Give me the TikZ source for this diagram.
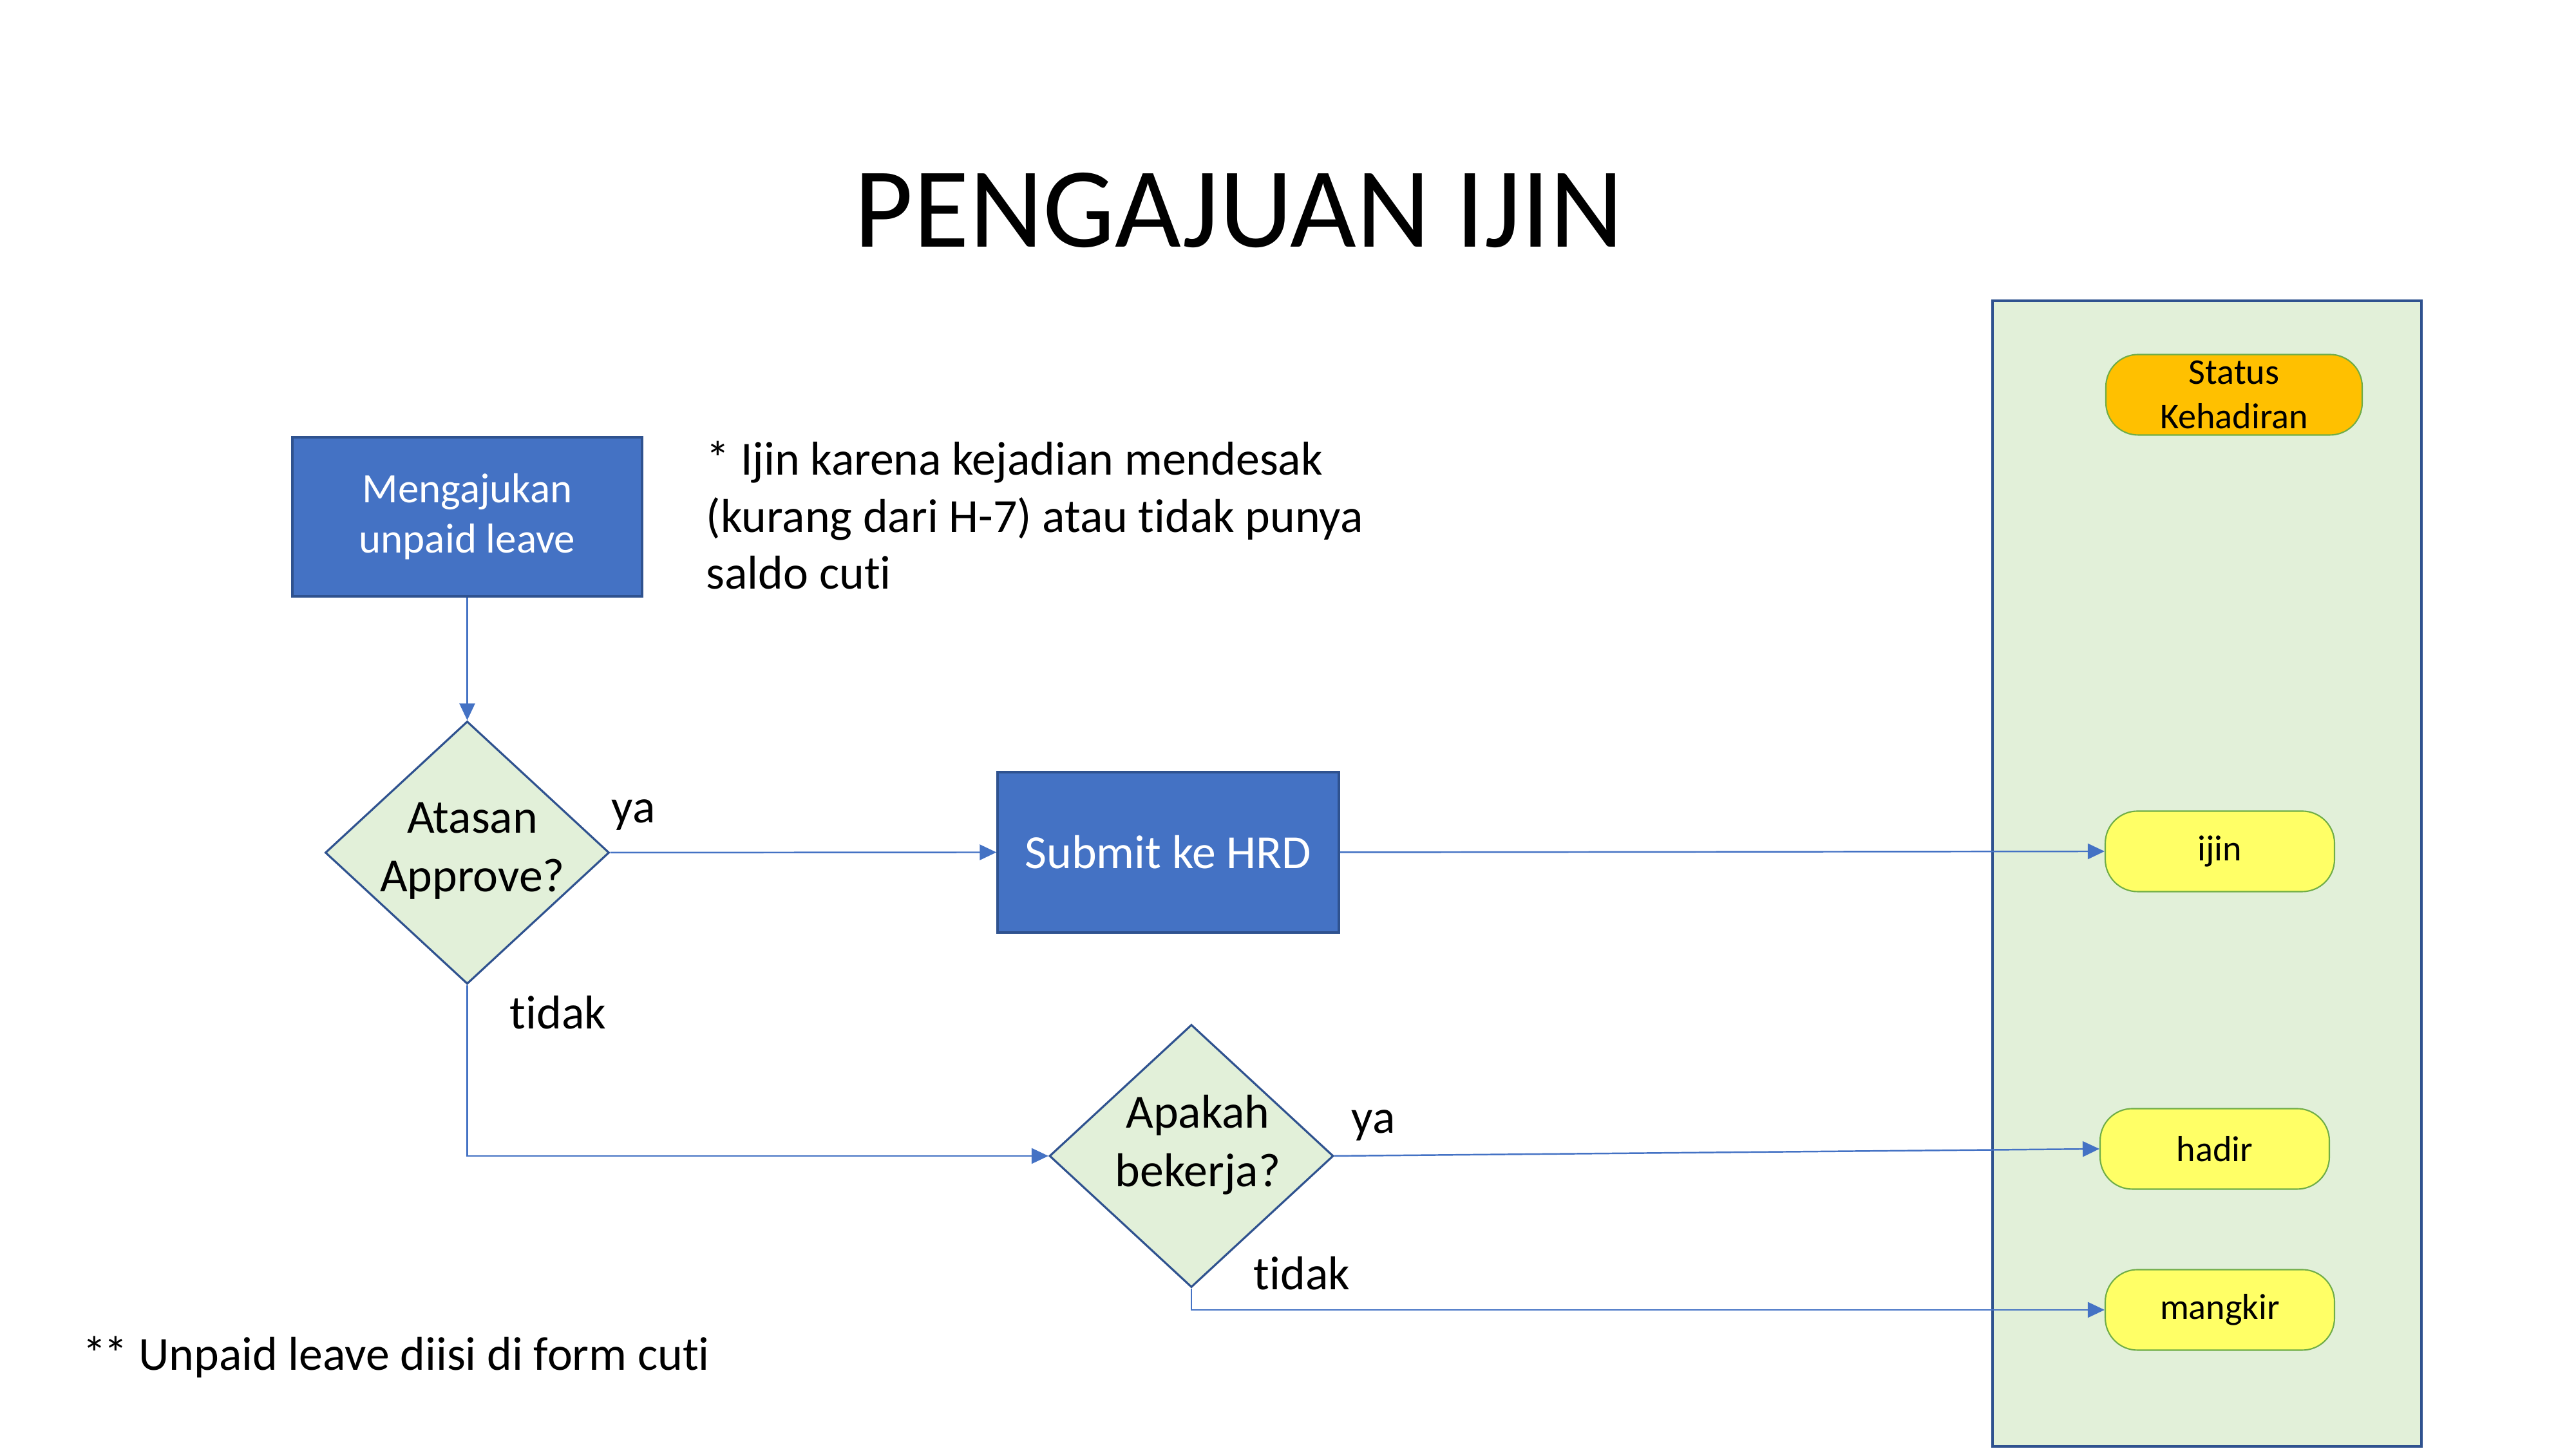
\documentclass[tikz,border=0pt]{standalone}
\usepackage{fontspec}
\setmainfont[Ligatures={NoCommon}]{Carlito}
\usetikzlibrary{shapes.geometric,arrows.meta,positioning}
\definecolor{biru}{HTML}{4472C4}
\definecolor{birutua}{HTML}{2F528F}
\definecolor{hijaumuda}{HTML}{E2F0D9}
\definecolor{hijau}{HTML}{70AD47}
\definecolor{kuning}{HTML}{FFFF66}
\definecolor{oranye}{HTML}{FFC000}
\tikzset{
  proses/.style={draw=birutua,fill=biru,line width=1pt,text=white,align=center,inner sep=0pt},
  keputusan/.style={diamond,draw=birutua,fill=hijaumuda,line width=0.9pt,inner sep=0pt,
    minimum width=4.41cm,minimum height=4.08cm},
  isi/.style={align=center,inner sep=0pt,font=\fontsize{21}{26}\selectfont},
  status/.style={draw=hijau,fill=kuning,line width=0.6pt,rounded corners=0.5cm,minimum width=3.56cm,
    minimum height=1.25cm,inner sep=0pt,align=center,font=\fontsize{16}{19.6}\selectfont},
  panah/.style={draw=biru,line width=0.7pt,-{Triangle[length=0.26cm,width=0.24cm]}},
  teks/.style={inner sep=0pt,anchor=base west,font=\fontsize{21}{25.3}\selectfont}
}
\begin{document}
\begin{tikzpicture}
  \useasboundingbox (0,0) rectangle (40,22.5);
  % judul
  \node[anchor=base,inner sep=0pt,font=\fontsize{50.5}{60}\selectfont] (judul) at (19.24,18.66) {PENGAJUAN IJIN};
  % kolom status kehadiran
  \draw[draw=birutua,fill=hijaumuda,line width=1.2pt] (30.94,0.04) rectangle (37.60,17.83);
  \node[status,fill=oranye,minimum width=3.98cm] (kepala) at (34.69,16.37) {Status\\Kehadiran};
  \node[status] (ijin) at (34.47,9.28) {ijin};
  \node[status] (hadir) at (34.39,4.66) {hadir};
  \node[status] (mangkir) at (34.47,2.16) {mangkir};
  % alur
  \node[proses,minimum width=5.43cm,minimum height=2.47cm,font=\fontsize{18.5}{22.2}\selectfont] (ajukan) at (7.255,14.475) {Mengajukan\\unpaid leave};
  \node[keputusan] (atasan) at (7.255,9.26) {};
  \node[isi] (atasanteks) at ([xshift=0.08cm,yshift=0.03cm]atasan.center) {Atasan\\Approve?};
  \node[proses,minimum width=5.30cm,minimum height=2.49cm,font=\fontsize{21}{25}\selectfont] (submit) at (18.14,9.265) {Submit ke HRD};
  \node[keputusan] (bekerja) at (18.50,4.55) {};
  \node[isi] (bekerjateks) at ([xshift=0.1cm,yshift=0.17cm]bekerja.center) {Apakah\\bekerja?};
  \node[teks,align=left] (ket) at (10.96,13.35) {* Ijin karena kejadian mendesak\\(kurang dari H-7) atau tidak punya\\saldo cuti};
  \node[teks] (catatan) at (1.28,1.22) {*\kern-0.05em* Unpaid leave diisi di form cuti};
  \node[teks] (ya1) at (9.49,9.72) {ya};
  \node[teks] (tidak1) at (7.91,6.52) {tidak};
  \node[teks] (ya2) at (20.98,4.90) {ya};
  \node[teks] (tidak2) at (19.46,2.47) {tidak};
  \draw[panah] (ajukan.south) -- (atasan.north);
  \draw[panah] (atasan.east) -- (submit.west);
  \draw[panah] (submit.east) -- (ijin.west);
  \draw[panah] (atasan.south) |- (bekerja.west);
  \draw[panah] (bekerja.east) -- (hadir.west);
  \draw[panah] (bekerja.south) |- (mangkir.west);
\end{tikzpicture}
\end{document}
